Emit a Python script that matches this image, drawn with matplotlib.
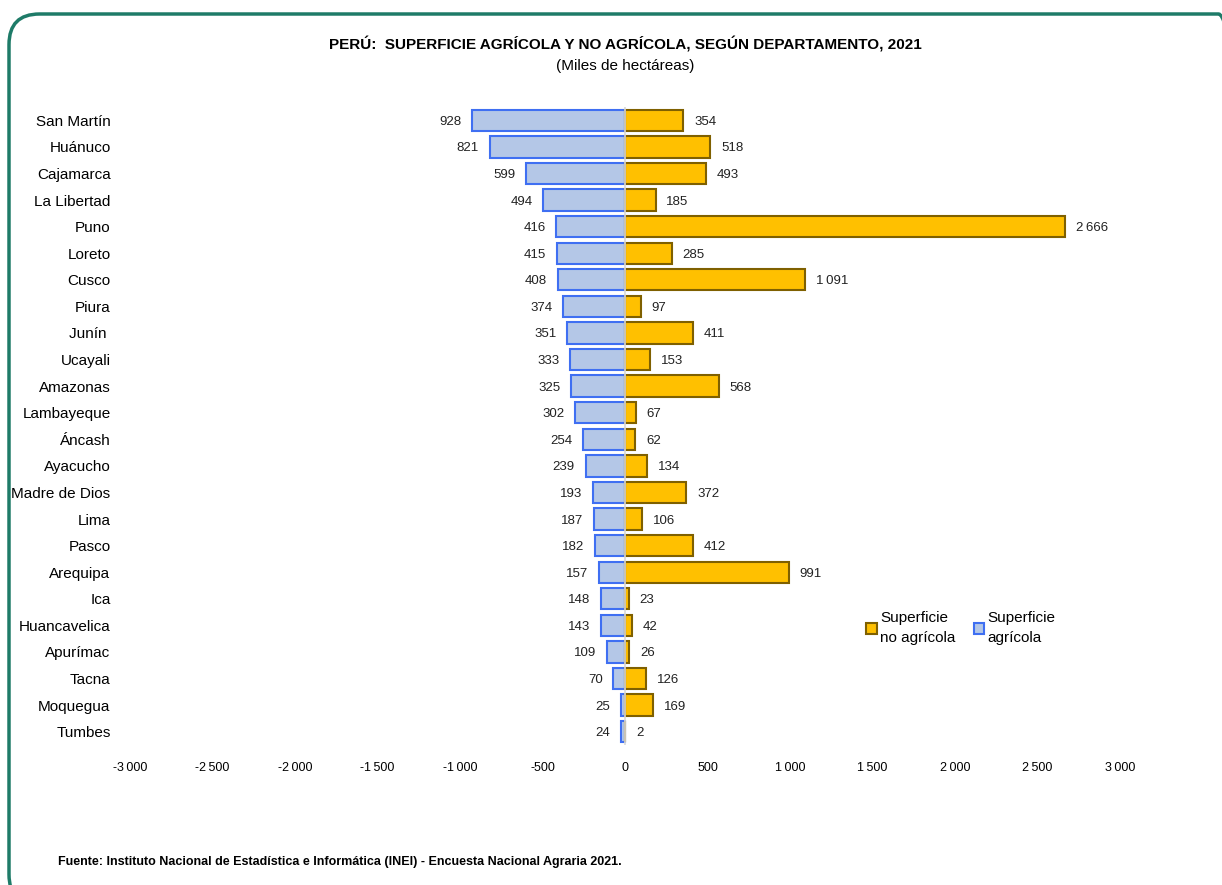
import matplotlib
matplotlib.use("Agg")
import matplotlib.pyplot as plt
from matplotlib.patches import FancyBboxPatch, Patch
from matplotlib.ticker import FuncFormatter

plt.rcParams['font.family'] = ['Liberation Sans Narrow', 'Liberation Sans', 'DejaVu Sans']

departamentos = ["San Martín", "Huánuco", "Cajamarca", "La Libertad", "Puno", "Loreto",
                 "Cusco", "Piura", "Junín ", "Ucayali", "Amazonas", "Lambayeque",
                 "Áncash", "Ayacucho", "Madre de Dios", "Lima", "Pasco", "Arequipa",
                 "Ica", "Huancavelica", "Apurímac", "Tacna", "Moquegua", "Tumbes"]
agricola = [928, 821, 599, 494, 416, 415, 408, 374, 351, 333, 325, 302,
            254, 239, 193, 187, 182, 157, 148, 143, 109, 70, 25, 24]
no_agricola = [354, 518, 493, 185, 2666, 285, 1091, 97, 411, 153, 568, 67,
               62, 134, 372, 106, 412, 991, 23, 42, 26, 126, 169, 2]
xticks = [-3000, -2500, -2000, -1500, -1000, -500, 0, 500, 1000, 1500, 2000, 2500, 3000]

blue_fill = '#B4C7E7'
blue_edge = '#3F6FF2'
orange_fill = '#FFC000'
orange_edge = '#7F6000'


def fmt(v):
    s = f"{abs(int(v)):,}".replace(",", "\u2009")
    return ("-" if v < 0 else "") + s


fig = plt.figure(figsize=(12.22, 8.85), dpi=100)
ax = fig.add_axes([130 / 1222, 1 - 745 / 885, (1120 - 130) / 1222, (745 - 107) / 885])

y = list(range(len(departamentos)))
ax.barh(y, [-v for v in agricola], height=0.8, color=blue_fill, edgecolor=blue_edge, linewidth=1.5)
ax.barh(y, no_agricola, height=0.8, color=orange_fill, edgecolor=orange_edge, linewidth=1.5)
ax.axvline(0, color='#D8D8D8', linewidth=1.2, zorder=3)

for i, (a, n) in enumerate(zip(agricola, no_agricola)):
    ax.text(-a - 65, i, fmt(a), ha='right', va='center_baseline', fontsize=9.5, color='#222222')
    ax.text(n + 65, i, fmt(n), ha='left', va='center_baseline', fontsize=9.5, color='#222222')

ax.set_xlim(-3000, 3000)
ax.set_ylim(len(departamentos) - 0.5, -0.5)
ax.set_xticks(xticks)
ax.xaxis.set_major_formatter(FuncFormatter(lambda v, p: fmt(v)))
ax.set_yticks(y)
ax.set_yticklabels(departamentos, fontsize=11)
ax.tick_params(axis='both', length=0)
ax.tick_params(axis='x', labelsize=9, pad=12)
ax.tick_params(axis='y', pad=14)
for s in ax.spines.values():
    s.set_visible(False)

handles = [Patch(facecolor=orange_fill, edgecolor=orange_edge, linewidth=1.5),
           Patch(facecolor=blue_fill, edgecolor=blue_edge, linewidth=1.5)]
leg = fig.legend(handles, ["Superficie\nno agrícola", "Superficie\nagrícola"],
                 loc='center left', bbox_to_anchor=(860 / 1222, 1 - 628 / 885),
                 ncol=2, frameon=False, fontsize=11, handlelength=0.7, handleheight=0.7,
                 handletextpad=0.2, columnspacing=1.2, borderaxespad=0)
for t in leg.get_texts():
    t.set_linespacing(1.5)

fig.text(625 / 1222, 1 - 45 / 885, "PERÚ:  SUPERFICIE AGRÍCOLA Y NO AGRÍCOLA, SEGÚN DEPARTAMENTO, 2021",
         ha='center', va='center', fontsize=11, fontweight='bold')
fig.text(625 / 1222, 1 - 66 / 885, "(Miles de hectáreas)", ha='center', va='center', fontsize=11)
fig.text(58 / 1222, 1 - 862 / 885,
         "Fuente: Instituto Nacional de Estadística e Informática (INEI) - Encuesta Nacional Agraria 2021.",
         ha='left', va='center', fontsize=9, fontweight='bold')

frame = FancyBboxPatch((9 / 1222, -20 / 885), 1240 / 1222, (885 - 14 + 20) / 885,
                       boxstyle="round,pad=0,rounding_size=0.025", transform=fig.transFigure,
                       facecolor='none', edgecolor='#1E7B68', linewidth=2.5, mutation_aspect=1222 / 885)
fig.patches.append(frame)

fig.savefig("out.png", dpi=100)
